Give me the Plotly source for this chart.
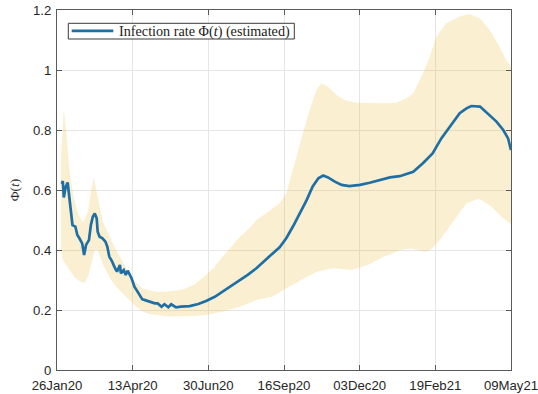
import pandas as pd
import plotly.graph_objects as go

# Time axis origin and end of the observation window
start_date = "2020-01-26"
end_date = "2021-05-09"

# Estimated infection rate (day offset from start_date, value)
rate_days = [5, 6, 7, 9, 11, 13, 15, 16, 19, 21, 23, 26, 28, 30, 33, 35, 37, 39, 41, 42,
             44, 47, 50, 52, 54, 57, 60, 62, 65, 66, 69, 71, 73, 77, 80, 84, 88, 91, 93, 97,
             101, 104, 108, 111, 115, 118, 123, 128, 137, 146, 154, 163, 171, 180, 189, 197,
             206, 215, 221, 230, 237, 244, 251, 258, 264, 270, 275, 280, 287, 294, 302, 313,
             323, 333, 344, 354, 363, 368, 378, 388, 397, 406, 416, 423, 428, 437, 445, 454,
             461, 466, 469]
rate_vals = [0.62, 0.63, 0.575, 0.61, 0.625, 0.565, 0.52, 0.483, 0.478, 0.45, 0.44, 0.422,
             0.383, 0.417, 0.433, 0.483, 0.511, 0.522, 0.506, 0.461, 0.444, 0.439, 0.428,
             0.411, 0.378, 0.361, 0.339, 0.328, 0.35, 0.322, 0.333, 0.317, 0.331, 0.306,
             0.278, 0.256, 0.236, 0.233, 0.231, 0.228, 0.222, 0.222, 0.211, 0.219, 0.209,
             0.219, 0.209, 0.211, 0.213, 0.22, 0.23, 0.244, 0.261, 0.28, 0.3, 0.317, 0.339,
             0.367, 0.383, 0.409, 0.44, 0.48, 0.522, 0.567, 0.611, 0.639, 0.648, 0.642,
             0.628, 0.617, 0.613, 0.617, 0.624, 0.633, 0.642, 0.646, 0.655, 0.661, 0.689,
             0.722, 0.772, 0.811, 0.856, 0.872, 0.88, 0.878, 0.856, 0.828, 0.8, 0.772, 0.733]

# Upper bound of the uncertainty band
upper_days = [4, 7, 10, 13, 17, 22, 27, 32, 36, 38, 42, 47, 52, 61, 68, 75, 82, 89, 96, 103,
              115, 130, 142, 154, 163, 171, 180, 189, 198, 206, 215, 223, 230, 237, 247, 254,
              261, 268, 273, 280, 289, 297, 309, 323, 337, 351, 361, 368, 378, 385, 392, 402,
              416, 426, 437, 447, 457, 464, 469]
upper_vals = [0.70, 0.87, 0.78, 0.66, 0.58, 0.52, 0.49, 0.53, 0.61, 0.64, 0.58, 0.50, 0.46,
              0.40, 0.36, 0.317, 0.29, 0.272, 0.265, 0.261, 0.262, 0.268, 0.285, 0.317, 0.345,
              0.378, 0.41, 0.444, 0.47, 0.50, 0.52, 0.539, 0.556, 0.59, 0.711, 0.789, 0.867,
              0.933, 0.956, 0.944, 0.917, 0.90, 0.891, 0.889, 0.889, 0.891, 0.906, 0.922,
              0.989, 1.044, 1.111, 1.156, 1.178, 1.187, 1.172, 1.133, 1.078, 1.033, 1.011]

# Lower bound of the uncertainty band
lower_days = [4, 6, 12, 18, 24, 28, 32, 36, 39, 42, 47, 54, 61, 68, 75, 82, 89, 96, 103, 115,
              130, 142, 154, 171, 189, 206, 223, 235, 252, 269, 286, 304, 321, 338, 355, 366,
              380, 386, 397, 410, 423, 436, 449, 459, 469]
lower_vals = [0.40, 0.367, 0.34, 0.31, 0.295, 0.289, 0.311, 0.36, 0.40, 0.40, 0.356, 0.31,
              0.278, 0.255, 0.233, 0.21, 0.194, 0.186, 0.183, 0.178, 0.178, 0.18, 0.183,
              0.194, 0.211, 0.233, 0.245, 0.268, 0.30, 0.328, 0.339, 0.333, 0.35, 0.378, 0.40,
              0.405, 0.394, 0.40, 0.44, 0.50, 0.556, 0.572, 0.544, 0.511, 0.487]

# Axis labels
tick_labels = ["26Jan20", "13Apr20", "30Jun20", "16Sep20", "03Dec20", "19Feb21", "09May21"]
y_ticks = [0, 0.2, 0.4, 0.6, 0.8, 1, 1.2]
y_tick_text = ["0", "0.2", "0.4", "0.6", "0.8", "1", "1.2"]
series_label = "Infection rate Φ(<i>t</i>) (estimated)"

LINE_COLOR = "#1f6fa5"
AXIS_COLOR = "#5a5a5a"
TEXT_COLOR = "#262626"
SANS = "Liberation Sans, Arial, sans-serif"
SERIF = "Liberation Serif, Times New Roman, serif"

W, H = 538, 394
M = dict(l=57, r=27, t=10, b=24)
PW = W - M["l"] - M["r"]
PH = H - M["t"] - M["b"]

t0 = pd.Timestamp(start_date)
t1 = pd.Timestamp(end_date)


def to_dates(days):
    return [t0 + pd.Timedelta(days=d) for d in days]


def px_x(px):
    """Pixel column -> paper x fraction."""
    return (px - M["l"]) / PW


def px_y(py):
    """Pixel row -> paper y fraction."""
    return 1 - (py - M["t"]) / PH


band_x = to_dates(upper_days) + to_dates(lower_days)[::-1]
band_y = upper_vals + lower_vals[::-1]

tick_vals = list(pd.date_range(t0, t1, periods=len(tick_labels)))

fig = go.Figure()
fig.add_trace(go.Scatter(
    x=band_x, y=band_y, fill="toself", mode="lines",
    line=dict(width=0), fillcolor="rgba(237,177,32,0.2)",
    hoverinfo="skip", showlegend=False,
))
fig.add_trace(go.Scatter(
    x=to_dates(rate_days), y=rate_vals, mode="lines",
    line=dict(color=LINE_COLOR, width=2.7),
    name=series_label, showlegend=False,
))

axis_common = dict(
    showline=True, linecolor=AXIS_COLOR, linewidth=1, mirror="ticks",
    ticks="inside", ticklen=5, tickcolor=AXIS_COLOR, tickwidth=1,
    showgrid=True, gridcolor="#e6e6e6", gridwidth=1, zeroline=False,
    automargin=False, ticklabeloverflow="allow",
    tickfont=dict(family=SANS, size=13.2, color=TEXT_COLOR),
)

fig.update_xaxes(
    type="date", range=[t0, t1], tickmode="array",
    tickvals=tick_vals, ticktext=tick_labels, ticklabelstandoff=3,
    **axis_common,
)
fig.update_yaxes(
    range=[0, 1.2], tickmode="array", tickvals=y_ticks, ticktext=y_tick_text,
    ticklabelstandoff=2,
    title=dict(text="Φ(<i>t</i>)", standoff=10,
               font=dict(family=SERIF, size=13.5, color=TEXT_COLOR)),
    **axis_common,
)

# Boxed legend in the upper-left corner of the axes
fig.add_shape(type="rect", xref="paper", yref="paper",
              x0=px_x(68.3), x1=px_x(294.3), y0=px_y(39), y1=px_y(23.3),
              line=dict(color="#3a3a3a", width=1), fillcolor="white", layer="above")
fig.add_shape(type="line", xref="paper", yref="paper",
              x0=px_x(71.7), x1=px_x(113.3), y0=px_y(30.9), y1=px_y(30.9),
              line=dict(color=LINE_COLOR, width=2.7), layer="above")
fig.add_annotation(xref="paper", yref="paper", x=px_x(116.5), y=px_y(31),
                   xanchor="left", yanchor="middle", showarrow=False,
                   text=series_label,
                   font=dict(family=SERIF, size=14.2, color="#1a1a1a"))

fig.update_layout(
    width=W, height=H, margin=M,
    paper_bgcolor="white", plot_bgcolor="white",
    showlegend=False,
)

fig.write_html("out.html")
